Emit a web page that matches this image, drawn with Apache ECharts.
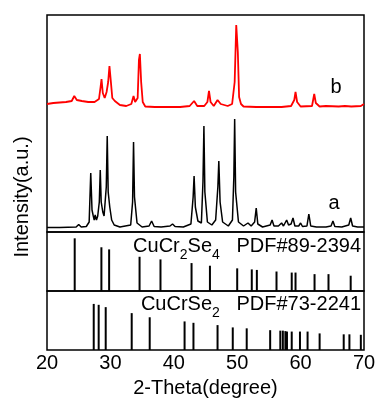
<!DOCTYPE html>
<html>
<head>
<meta charset="utf-8">
<script src="https://cdn.jsdelivr.net/npm/echarts@6/dist/echarts.min.js"></script>
<style>html,body{margin:0;padding:0;background:#fff}#c{width:392px;height:411px}</style>
</head>
<body>
<div id="c"></div>
<script>
// 2-theta tick labels
const xTicks = [20, 30, 40, 50, 60, 70];

// Sample b (red), intensity a.u. (offset stacked)
const traceB = [
[20.0,128],[21.0,129],[22.0,129.5],[23.0,130],[23.9,131],[24.3,136],[24.45,138],[24.7,132],[25.5,131],[26.5,130],[27.5,130],
[28.2,133],[28.45,145],[28.6,153],[28.8,139],[29.1,134],[29.4,140],[29.65,150],[29.85,166],[30.05,152],[30.3,134],[30.7,131],
[31.5,127],[32.5,126],[33.3,128],[33.65,136],[33.9,130],[34.3,134],[34.5,172],[34.65,178],[34.85,150],[35.1,130],[35.5,125.5],
[37,125],[39,125],[41,125],[42.5,126],[43.2,131],[43.7,126],[44.8,126],[45.3,130],[45.55,141],[45.8,130],[46.3,126],[46.9,132],
[47.1,133],[47.4,128],[48.5,126],[49.2,128],[49.6,150],[49.85,207],[50.0,205],[50.1,180],[50.3,135],[50.6,128],[51,125.5],
[53,125],[55,125],[57,125],[58.5,126],[59.0,132],[59.2,140],[59.45,130],[60,125.5],[61.8,126],[62.15,138],[62.4,129],[63,125.5],
[64,126],[66,125.5],[67,126],[68,125.5],[69.5,126],[70,128]
];

// Sample a (black)
const traceA = [
[20,4.5],[22,4.5],[24.6,5],[25.0,7.5],[25.4,5],[26.2,5.5],[26.65,10],[26.9,59],[27.1,22],[27.3,16],[27.45,12],[27.6,17],[27.8,12],
[28.0,16],[28.25,30],[28.4,62],[28.55,30],[28.8,20],[29.0,16],[29.35,45],[29.5,96],[29.65,40],[29.9,25],[30.2,12],[30.6,7],[31.5,5],[33.2,7],
[33.5,30],[33.65,90],[33.8,35],[34.2,9],[35,5],[36.1,6],[36.5,11],[36.9,5.5],[38,5],[39.4,6],[39.8,8],[40.2,5.5],[41.5,5],
[42.7,8],[43.05,35],[43.2,56],[43.4,25],[43.8,11],[44.35,9],[44.6,50],[44.75,106],[44.9,40],[45.3,10],[46.0,7],[46.6,12],
[46.95,45],[47.1,71],[47.3,30],[47.7,10],[48.6,6],[49.25,12],[49.47,55],[49.6,113],[49.75,40],[50.2,10],[51.0,6],[51.7,9],[52.2,6],
[52.75,10],[53.0,24],[53.25,8],[54.0,5],[55.2,7],[55.5,12],[55.8,6],[56.5,6],[57.0,9],[57.3,6],[57.8,12],[58.1,7],[58.5,8],[58.8,14],
[59.1,6],[59.7,6],[60.0,9],[60.3,5.5],[61.0,6],[61.3,18],[61.6,6],[62.5,5],[64.0,5],[64.8,6],[65.1,11],[65.4,5.5],[66.5,5],
[67.6,7],[67.9,14],[68.2,6],[69,5],[70,5]
];

// CuCr2Se4 PDF#89-2394 reference lines
const ref1Pos = [24.37, 28.58, 29.8, 34.6, 37.9, 42.8, 45.7, 50.0, 52.3, 53.1, 56.2, 58.6, 59.2, 62.2, 64.4, 67.9];
const ref1Int = [100, 83, 79, 65, 60, 53, 48, 43, 41, 40, 37, 35, 35, 32, 32, 29];

// CuCrSe2 PDF#73-2241 reference lines
const ref2Pos = [27.37, 28.15, 29.26, 33.36, 36.2, 41.7, 43.1, 46.9, 49.3, 51.5, 55.2, 56.8, 57.2, 57.6, 57.85, 58.6, 59.9, 61.1, 63.0, 66.8, 67.7, 69.5];
const ref2Int = [100, 98, 93, 80, 71, 62, 59, 54, 49, 47, 43, 42, 42, 41, 40, 40, 40, 40, 36, 34, 34, 33];

const FONT = "'Liberation Sans', Arial, sans-serif";
const chart = echarts.init(document.getElementById('c'));

const zip = (a, b) => a.map((v, i) => [v, b[i]]);
const gridBase = {left: 47, right: 28, show: true, borderColor: '#000', borderWidth: 1.5, backgroundColor: 'transparent'};
const hiddenX = (i) => ({type: 'value', gridIndex: i, min: 20, max: 70, interval: 10, axisLine: {show: false}, axisTick: {show: false}, axisLabel: {show: false}, splitLine: {show: false}});
const hiddenY = (i, max) => ({type: 'value', gridIndex: i, min: 0, max: max, axisLine: {show: false}, axisTick: {show: false}, axisLabel: {show: false}, splitLine: {show: false}});
const richStyle = {
  n: {fontSize: 20, fontFamily: FONT, fill: '#000', lineHeight: 22, verticalAlign: 'top'},
  s: {fontSize: 14, fontFamily: FONT, fill: '#000', lineHeight: 14, verticalAlign: 'top', padding: [12, 0, 0, 0]}
};

chart.setOption({
  animation: false,
  backgroundColor: '#fff',
  grid: [
    Object.assign({top: 15, height: 217}, gridBase),
    Object.assign({top: 232, height: 59}, gridBase),
    Object.assign({top: 291, height: 59}, gridBase)
  ],
  xAxis: [hiddenX(0), hiddenX(1), {
    type: 'value', gridIndex: 2, min: 20, max: 70, interval: 10,
    axisLine: {show: false}, axisTick: {show: false}, splitLine: {show: false},
    axisLabel: {color: '#000', fontSize: 20, fontFamily: FONT, margin: 3, formatter: v => xTicks.includes(v) ? String(v) : ''},
    name: '2-Theta(degree)', nameLocation: 'middle', nameGap: 28,
    nameTextStyle: {color: '#000', fontSize: 20, fontFamily: FONT}
  }],
  yAxis: [hiddenY(0, 217), hiddenY(1, 112), hiddenY(2, 128)],
  series: [
    {type: 'line', xAxisIndex: 0, yAxisIndex: 0, data: traceB, showSymbol: false, symbol: 'none', lineStyle: {color: '#ff0000', width: 1.8}},
    {type: 'line', xAxisIndex: 0, yAxisIndex: 0, data: traceA, showSymbol: false, symbol: 'none', lineStyle: {color: '#000', width: 1.5}},
    {type: 'bar', xAxisIndex: 1, yAxisIndex: 1, data: zip(ref1Pos, ref1Int), barWidth: 2, itemStyle: {color: '#000'}},
    {type: 'bar', xAxisIndex: 2, yAxisIndex: 2, data: zip(ref2Pos, ref2Int), barWidth: 2, itemStyle: {color: '#000'}}
  ],
  graphic: [
    {type: 'text', x: 22, y: 197, rotation: Math.PI / 2, style: {text: 'Intensity(a.u.)', fill: '#000', font: '20px ' + FONT, textAlign: 'center', textVerticalAlign: 'middle'}},
    {type: 'text', x: 336, y: 87, style: {text: 'b', fill: '#000', font: '20px ' + FONT, textAlign: 'center', textVerticalAlign: 'middle'}},
    {type: 'text', x: 334, y: 203, style: {text: 'a', fill: '#000', font: '20px ' + FONT, textAlign: 'center', textVerticalAlign: 'middle'}},
    {type: 'text', x: 361, y: 236, style: {
      text: '{n|CuCr}{s|2}{n|Se}{s|4}{n|   PDF#89-2394}',
      textAlign: 'right', textVerticalAlign: 'top', rich: richStyle}},
    {type: 'text', x: 361, y: 294, style: {
      text: '{n|CuCrSe}{s|2}{n|   PDF#73-2241}',
      textAlign: 'right', textVerticalAlign: 'top', rich: richStyle}}
  ]
});
</script>
</body>
</html>
